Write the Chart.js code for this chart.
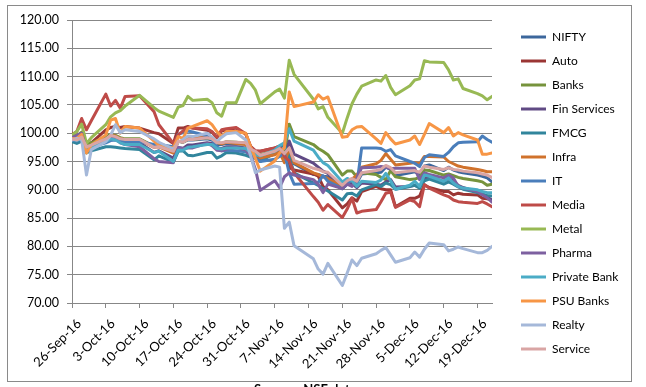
<!DOCTYPE html>
<html><head><meta charset="utf-8">
<script src="https://cdn.jsdelivr.net/npm/chart.js@4.4.1/dist/chart.umd.min.js"></script>
<style>
html,body{margin:0;padding:0;background:#fff;}
#wrap{position:relative;width:646px;height:387px;overflow:hidden;}
#frame{position:absolute;left:7px;top:5px;width:623px;height:375px;border:1px solid #8a8a8a;}
canvas{position:absolute;left:0;top:0;}
</style></head><body>
<div id="wrap"><div id="frame"></div><canvas id="c" width="646" height="387"></canvas></div>
<script>
// trading dates
const dates = ['2016-09-26','2016-09-27','2016-09-28','2016-09-29','2016-09-30',
 '2016-10-03','2016-10-04','2016-10-05','2016-10-06','2016-10-07',
 '2016-10-10','2016-10-13','2016-10-14',
 '2016-10-17','2016-10-18','2016-10-19','2016-10-20','2016-10-21',
 '2016-10-24','2016-10-25','2016-10-26','2016-10-27','2016-10-28',
 '2016-10-30','2016-11-01','2016-11-02','2016-11-03','2016-11-04',
 '2016-11-07','2016-11-08','2016-11-09','2016-11-10','2016-11-11',
 '2016-11-15','2016-11-16','2016-11-17','2016-11-18',
 '2016-11-21','2016-11-22','2016-11-23','2016-11-24','2016-11-25',
 '2016-11-28','2016-11-29','2016-11-30','2016-12-01','2016-12-02',
 '2016-12-05','2016-12-06','2016-12-07','2016-12-08','2016-12-09',
 '2016-12-12','2016-12-13','2016-12-14','2016-12-15','2016-12-16',
 '2016-12-19','2016-12-20','2016-12-21','2016-12-22'];

const tickDates = ['2016-09-26','2016-10-03','2016-10-10','2016-10-17','2016-10-24','2016-10-31','2016-11-07','2016-11-14','2016-11-21','2016-11-28','2016-12-05','2016-12-12','2016-12-19'];
const tickLabels = ['26-Sep-16','3-Oct-16','10-Oct-16','17-Oct-16','24-Oct-16','31-Oct-16','7-Nov-16','14-Nov-16','21-Nov-16','28-Nov-16','5-Dec-16','12-Dec-16','19-Dec-16'];

const seriesNames = ['NIFTY','Auto','Banks','Fin Services','FMCG','Infra','IT','Media','Metal','Pharma','Private Bank','PSU Banks','Realty','Service'];

const nifty = [99.6,99.4,99.8,98.0,98.3, 99.2,99.6,99.3,98.9,98.8, 98.9,97.6,97.7, 96.9,98.6,98.4,98.8,98.8, 99.0,98.8,98.0,98.0,98.2, 98.1,98.1,96.9,96.6,96.1, 96.7,97.2,96.1,97.0,94.6, 92.7,92.7,92.4,92.3, 90.8,91.5,91.9,91.2,92.8, 93.0,93.1,94.0,93.6,92.5, 93.0,93.2,92.7,94.2,94.4, 93.4,94.0,93.5,93.2,93.0, 92.6,92.4,92.1,91.4];
const auto = [100.0,99.4,100.0,97.8,98.3, 100.6,101.0,101.2,101.0,101.2, 100.9,100.1,99.9, 98.2,100.9,100.9,101.2,100.9, 100.5,100.2,99.2,100.4,100.6, 100.9,99.8,97.7,96.8,96.8, 97.4,97.7,96.2,93.9,93.5, 92.8,92.4,90.6,90.0, 86.8,87.5,88.6,88.0,89.7, 90.6,90.2,90.0,90.0,87.0, 88.5,88.5,88.9,90.9,90.4, 89.7,89.7,89.1,89.4,89.2, 89.1,88.5,88.4,88.2];
const banks = [99.8,99.5,100.2,97.8,98.3, 99.3,99.8,99.6,99.2,99.0, 99.0,97.7,98.0, 96.9,98.6,98.4,98.9,98.9, 99.2,99.0,98.3,98.2,98.5, 98.4,98.2,97.2,96.8,96.2, 96.9,97.5,96.3,101.6,99.4, 98.0,97.3,96.8,96.2, 92.6,93.3,93.3,92.3,93.0, 92.7,92.2,91.8,93.4,92.3, 91.8,91.9,92.2,93.5,93.4, 92.6,92.8,92.5,92.2,92.0, 91.6,91.4,90.8,91.0];
const finServices = [99.3,99.0,99.6,97.4,97.8, 98.7,99.2,99.0,98.5,98.4, 98.3,96.6,96.9, 95.6,97.5,97.3,97.9,97.9, 98.3,98.2,97.4,97.3,97.6, 97.6,97.4,96.4,96.1,95.5, 96.3,96.9,95.8,98.6,96.3, 94.7,94.0,93.3,92.9, 90.2,91.0,91.1,90.4,91.2, 91.0,90.8,91.4,91.8,90.5, 90.6,90.8,90.5,92.0,92.3, 91.5,92.0,91.6,90.8,90.4, 89.6,89.3,88.7,88.2];
const fmcg = [98.5,98.2,98.6,96.5,96.9, 97.6,97.6,97.5,97.4,97.3, 97.1,95.3,96.0, 94.9,96.8,96.9,96.1,96.0, 96.6,96.6,95.6,96.0,96.6, 96.5,96.1,95.8,95.5,95.0, 96.5,97.5,97.9,95.8,93.0, 91.2,90.8,90.2,89.8, 88.2,89.3,89.4,88.9,90.0, 90.9,90.6,91.2,90.9,90.1, 90.6,90.8,90.3,91.6,91.9, 91.0,91.4,91.0,90.5,90.1, 89.5,89.2,89.0,88.9];
const infra = [99.5,98.8,99.2,97.4,97.4, 98.8,99.6,99.5,99.0,98.9, 98.8,97.5,97.6, 96.5,98.5,98.6,99.1,99.2, 99.6,99.3,98.4,98.1,98.4, 98.2,98.0,96.8,96.3,95.6, 96.2,96.6,94.8,97.3,94.8, 93.0,92.7,92.3,92.0, 90.6,91.2,91.9,92.6,94.0, 94.6,95.2,96.4,95.4,94.4, 94.7,94.8,94.6,95.9,95.9, 95.8,95.0,94.6,94.2,94.0, 93.6,93.4,93.2,93.2];
const it = [98.8,98.6,99.2,97.6,97.6, 98.3,98.7,98.8,98.6,98.5, 98.5,98.0,98.0, 97.6,99.8,100.1,100.4,100.2, 99.5,99.0,97.6,96.9,97.0, 96.9,96.7,96.2,95.5,95.0, 95.4,95.9,96.5,93.0,91.0, 91.1,91.3,92.5,91.5, 90.2,91.0,91.8,90.9,97.4, 97.4,97.3,96.8,97.1,96.0, 95.0,94.7,94.1,95.7,96.2, 95.9,96.6,97.6,98.3,98.4, 98.5,99.5,98.9,98.4];
const media = [99.7,100.3,102.6,100.6,102.2, 106.9,104.8,105.8,104.4,106.5, 106.6,103.8,101.5, 98.2,99.7,100.4,101.0,100.9, 100.8,100.3,99.3,100.6,100.8, 101.0,99.9,97.6,96.9,96.8, 97.4,97.7,95.9,95.1,93.0, 88.8,87.8,86.4,87.4, 85.1,86.6,88.5,85.9,86.2, 86.5,87.9,89.4,89.6,86.9, 88.2,87.9,87.0,90.9,90.3, 89.1,88.8,88.2,87.9,87.8, 87.6,87.9,87.5,87.0];
const metal = [99.7,100.3,101.6,98.2,99.2, 101.5,102.9,103.6,104.0,104.8, 106.7,104.5,103.9, 102.8,104.6,104.9,106.5,105.8, 106.0,105.4,103.6,103.0,105.4, 105.4,109.5,108.8,107.6,105.2, 107.3,107.8,106.2,112.9,110.4, 106.0,104.3,104.7,102.8, 100.0,102.7,105.2,106.9,108.3, 109.4,109.2,110.2,108.1,106.8, 108.4,109.4,109.6,112.8,112.6, 112.5,111.2,109.4,109.6,107.9, 107.0,106.6,105.9,106.5];
const pharma = [99.2,99.6,100.0,97.0,97.3, 98.6,99.1,99.0,98.3,98.0, 97.6,95.5,95.0, 94.8,97.5,97.3,97.4,97.4, 98.2,97.8,97.0,96.9,97.2, 97.5,97.0,96.0,93.6,89.9, 91.6,90.4,92.3,93.0,92.6, 91.8,91.0,89.5,91.0, 90.2,91.0,90.6,92.0,93.9, 94.0,94.1,94.0,93.7,93.8, 93.8,93.8,91.8,93.0,92.7, 92.1,92.6,92.1,90.6,90.3, 89.7,89.1,88.6,87.8];
const privateBank = [99.0,98.7,99.3,97.0,97.5, 98.5,99.0,98.8,98.3,98.0, 98.0,96.6,96.8, 95.0,97.0,97.0,97.5,97.6, 98.0,98.0,97.3,97.2,97.4, 97.4,97.3,96.5,96.2,96.0, 97.0,97.8,98.3,100.8,98.6, 97.0,95.8,94.8,94.3, 91.4,92.0,91.6,90.6,91.5, 91.3,91.7,92.9,91.6,90.1, 90.8,91.5,90.6,92.6,92.4, 91.5,92.1,91.2,90.6,90.3, 90.0,89.7,89.5,89.5];
const psuBanks = [99.0,99.1,99.8,96.5,97.9, 99.7,102.3,102.6,100.0,101.2, 100.9,98.6,97.8, 97.4,99.4,99.1,100.9,101.2, 102.2,101.5,100.3,99.4,100.3, 100.3,100.0,97.6,95.5,93.3, 95.1,96.5,97.4,107.3,104.7, 105.5,106.8,106.0,106.4, 99.3,99.4,100.6,101.1,101.2, 99.0,98.2,100.1,99.0,98.1, 98.8,99.5,98.0,99.8,101.7, 100.1,101.0,99.5,100.1,99.7, 98.8,96.3,96.3,96.5];
const realty = [98.8,99.1,98.9,92.6,97.1, 98.5,99.6,101.5,100.1,100.6, 100.3,99.0,98.4, 97.2,98.4,98.9,99.5,99.4, 100.0,99.3,98.5,99.3,99.9, 100.1,98.8,96.0,93.0,93.5, 94.2,94.0,83.2,84.3,80.1, 77.8,76.0,75.1,77.0, 73.1,75.3,77.6,76.6,77.9, 78.7,79.3,79.8,78.5,77.2, 78.0,79.0,78.1,79.5,80.6, 80.3,79.2,79.5,79.9,79.6, 78.9,78.9,79.3,80.0];
const service = [99.0,98.8,99.3,97.6,97.9, 99.0,99.6,99.4,99.0,98.9, 98.9,97.5,97.6, 96.8,98.6,98.4,98.9,98.9, 99.2,99.0,98.3,98.3,98.5, 98.4,98.3,97.2,96.8,96.1, 96.8,97.3,96.4,97.4,95.2, 93.8,93.6,93.2,93.1, 90.8,91.6,92.0,91.5,93.0, 93.4,93.6,94.3,93.9,93.0, 93.3,93.4,93.1,94.2,94.0, 93.6,93.9,93.6,93.5,93.3, 93.0,92.8,92.6,92.2];

const seriesValues = [nifty, auto, banks, finServices, fmcg, infra, it, media, metal, pharma, privateBank, psuBanks, realty, service];
const seriesColors = ['#3C679C','#9B3634','#76933C','#604A84','#31859C','#D0722C','#4A7EBB','#BE4B48','#98B954','#7D60A0','#4BACC6','#F79646','#A5B8D9','#D9A5A4'];

const DAY = 86400000;
const t0 = Date.parse(dates[0]);
const dayOf = d => Math.round((Date.parse(d) - t0) / DAY);
const xDays = dates.map(dayOf);
const tickDays = tickDates.map(dayOf);

const FONT = 'Lato';
Chart.defaults.font.family = FONT;
const gridColor = '#878787';

const datasets = seriesNames.map((name, i) => ({
  label: name,
  data: seriesValues[i].map((v, j) => ({x: xDays[j], y: v})),
  borderColor: seriesColors[i],
  backgroundColor: seriesColors[i],
  borderWidth: 3,
  pointRadius: 0,
  tension: 0,
  borderJoinStyle: 'round',
  borderCapStyle: 'round',
  order: seriesNames.length - i
}));

const layoutFix = {
  id: 'layoutFix',
  beforeLayout(chart) {
    const lg = chart.legend;
    if (lg && !lg._fixedFit) {
      const f = lg.fit;
      lg.fit = function () { f.call(this); this.width = 154; };
      lg._fixedFit = true;
    }
  },
  afterLayout(chart) {
    const lg = chart.legend;
    if (lg) { lg.left = 509; lg.right = 646; lg.top = 19; lg.bottom = 387; }
  },
  afterDraw(chart) {
    const ctx = chart.ctx;
    ctx.save();
    ctx.font = 'bold 13px ' + FONT;
    ctx.fillStyle = '#000';
    ctx.textAlign = 'left';
    ctx.textBaseline = 'alphabetic';
    ctx.fillText('Source : NSE data', 254, 394);
    ctx.restore();
  }
};

new Chart(document.getElementById('c'), {
  type: 'line',
  data: { datasets },
  options: {
    responsive: false,
    animation: false,
    devicePixelRatio: 1,
    layout: { padding: { top: 20, left: 0, right: 0, bottom: 0 } },
    plugins: {
      tooltip: { enabled: false },
      legend: {
        position: 'right',
        align: 'start',
        labels: {
          boxWidth: 25,
          boxHeight: 3,
          padding: 12,
          color: '#000',
          font: { family: FONT, size: 12 },
          generateLabels: chart => chart.data.datasets.map((d, i) => ({
            text: d.label, fillStyle: d.borderColor, strokeStyle: d.borderColor,
            lineWidth: 0, hidden: false, datasetIndex: i
          }))
        }
      }
    },
    scales: {
      x: {
        type: 'linear',
        min: xDays[0],
        max: xDays[xDays.length - 1],
        afterBuildTicks: s => { s.ticks = tickDays.map(v => ({ value: v })); },
        afterFit: s => { s.height = 84; },
        ticks: {
          autoSkip: false,
          maxRotation: 45,
          minRotation: 45,
          padding: 8,
          labelOffset: 7,
          color: '#000',
          font: { family: FONT, size: 13 },
          callback: v => tickLabels[tickDays.indexOf(v)]
        },
        grid: { drawOnChartArea: false, drawTicks: true, tickLength: 5, color: gridColor },
        border: { color: gridColor, width: 1 }
      },
      y: {
        min: 70,
        max: 120,
        afterFit: s => { s.width = 72; },
        ticks: {
          stepSize: 5,
          padding: 8,
          color: '#000',
          font: { family: FONT, size: 12.5 },
          callback: v => Number(v).toFixed(2)
        },
        grid: { color: gridColor, tickLength: 5, drawTicks: true },
        border: { color: gridColor, width: 1 }
      }
    }
  },
  plugins: [layoutFix]
});
</script>
</body></html>
